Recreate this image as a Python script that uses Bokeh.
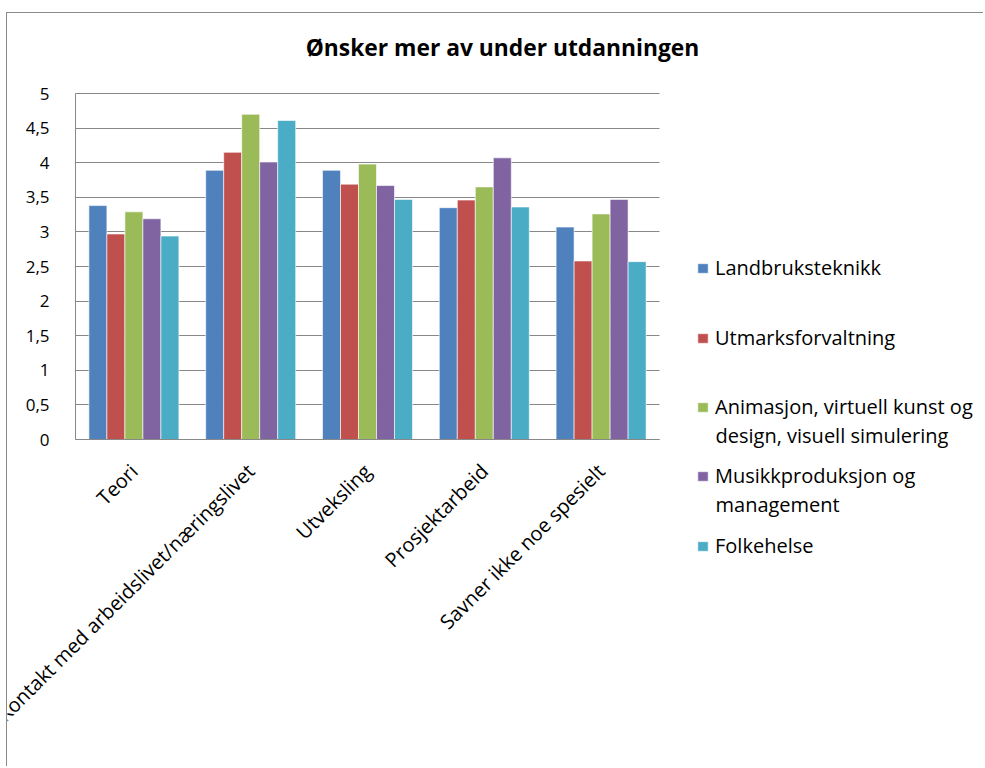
import numpy as np
from bokeh.plotting import figure
from bokeh.models import (ColumnDataSource, FixedTicker, Label, Legend, LegendItem, Range1d)
from bokeh.embed import file_html
from bokeh.resources import INLINE

# ---------------- data ----------------
categories = ["Teori", "Kontakt med arbeidslivet/næringslivet", "Utveksling",
              "Prosjektarbeid", "Savner ikke noe spesielt"]
landbruksteknikk = [3.38, 3.89, 3.89, 3.35, 3.07]
utmarksforvaltning = [2.97, 4.15, 3.69, 3.46, 2.58]
animasjon = [3.29, 4.70, 3.98, 3.65, 3.26]
musikkproduksjon = [3.19, 4.01, 3.67, 4.07, 3.47]
folkehelse = [2.94, 4.61, 3.47, 3.36, 2.57]

series_names = ["Landbruksteknikk", "Utmarksforvaltning",
                "Animasjon, virtuell kunst og\ndesign, visuell simulering",
                "Musikkproduksjon og\nmanagement", "Folkehelse"]
y_ticks = [0, 0.5, 1, 1.5, 2, 2.5, 3, 3.5, 4, 4.5, 5]
y_tick_labels = ["0", "0,5", "1", "1,5", "2", "2,5", "3", "3,5", "4", "4,5", "5"]
title_text = "Ønsker mer av under utdanningen"

colors = ["#4F81BD", "#C0504D", "#9BBB59", "#8064A2", "#4BACC6"]
FONT = "Open Sans"

# ---------------- geometry (page px) ----------------
CANVAS_X, CANVAS_Y = 7, 13          # canvas origin on the page (after margin + border)
W, H = 977, 754
F_LEFT, F_TOP, F_RIGHT, F_BOTTOM = 7, 13, 984, 767    # frame on the page (whole canvas)
BAR_LEFT, BAR_RIGHT, BAR_TOP, BAR_BASE = 75, 659, 93, 439   # where x=0, x=5, y=5, y=0 fall
YMAX = 5.0
ncat = len(categories)
px_x = (BAR_RIGHT - BAR_LEFT) / ncat
px_y = (BAR_BASE - BAR_TOP) / YMAX

def dx(px):
    return (px - BAR_LEFT) / px_x

def dy(py):
    return (BAR_BASE - py) / px_y

centers = np.arange(ncat) + 0.5
bw = 18.0 / px_x
offsets = [-2 * bw, -bw, 0, bw, 2 * bw]
series = [landbruksteknikk, utmarksforvaltning, animasjon, musikkproduksjon, folkehelse]

p = figure(x_range=Range1d(dx(F_LEFT), dx(F_RIGHT)), y_range=Range1d(dy(F_BOTTOM), dy(F_TOP)),
           width=W, height=H, output_backend="svg", toolbar_location=None,
           min_border_left=0, min_border_top=0, min_border_right=0, min_border_bottom=0)
p.margin = (12, 0, 0, 6)
p.styles = {"border-top": "1px solid #8a8a8a", "border-left": "1px solid #8a8a8a"}
p.outline_line_color = None
p.background_fill_color = "white"
p.border_fill_color = "white"

renderers = []
for i, vals in enumerate(series):
    src = ColumnDataSource(dict(x=centers + offsets[i], top=vals, cat=categories))
    r = p.vbar(x="x", top="top", width=bw, source=src, fill_color=colors[i],
               line_color="white", line_alpha=0.6, line_width=1)
    renderers.append(r)

# axes (fixed at the data origin, inside the frame)
p.yaxis.fixed_location = 0
p.yaxis.ticker = FixedTicker(ticks=y_ticks)
p.yaxis.bounds = (0, YMAX)
p.yaxis.major_label_overrides = {t: l for t, l in zip(y_ticks, y_tick_labels)}
p.yaxis.major_tick_line_color = None
p.yaxis.minor_tick_line_color = None
p.yaxis.axis_line_color = "#888888"
p.yaxis.major_label_standoff = 20
p.yaxis.major_label_text_font = FONT
p.yaxis.major_label_text_font_size = "17px"
p.yaxis.major_label_text_color = "black"

p.xaxis.fixed_location = 0
p.xaxis.ticker = FixedTicker(ticks=list(centers))
p.xaxis.bounds = (0, ncat)
p.xaxis.major_label_overrides = {float(c): n for c, n in zip(centers, categories)}
p.xaxis.major_tick_line_color = None
p.xaxis.minor_tick_line_color = None
p.xaxis.axis_line_color = "#888888"
p.xaxis.major_label_orientation = 0.785398
p.xaxis.major_label_text_font = FONT
p.xaxis.major_label_text_font_size = "20px"
p.xaxis.major_label_text_color = "black"
p.xaxis.major_label_standoff = 22

p.xgrid.grid_line_color = None
p.ygrid.ticker = FixedTicker(ticks=y_ticks)
p.ygrid.cross_bounds = (0, ncat)
p.ygrid.grid_line_color = "#888888"
p.ygrid.grid_line_width = 1

# title
p.add_layout(Label(x=dx(502), y=dy(47), text=title_text, text_align="center",
                   text_baseline="middle", text_font=FONT, text_font_style="bold",
                   text_font_size="22.8px", text_color="black"))

# legend: one legend per entry, placed like the original
LEG_X = 696
first_line_y = [268, 338, 407, 476, 546]
second_line_y = {2: 435, 3: 504}
ITEM_H = 26
LEG_FS = "20px"
for i, r in enumerate(renderers):
    lines = series_names[i].split("\n")
    leg = Legend(items=[LegendItem(label=lines[0], renderers=[r])],
                 location=(LEG_X - F_LEFT, F_BOTTOM - first_line_y[i] - ITEM_H / 2),
                 glyph_width=13, glyph_height=12, label_height=ITEM_H,
                 label_standoff=6, padding=0, margin=0, border_line_color=None,
                 background_fill_alpha=0, label_text_font=FONT,
                 label_text_font_size=LEG_FS, label_text_color="black")
    p.add_layout(leg)
    if len(lines) > 1:
        p.add_layout(Label(x=dx(LEG_X + 19), y=dy(second_line_y[i]), text=lines[1],
                           text_align="left", text_baseline="middle", text_font=FONT,
                           text_font_size=LEG_FS, text_color="black"))

open("out.html", "w").write(file_html(p, INLINE))
